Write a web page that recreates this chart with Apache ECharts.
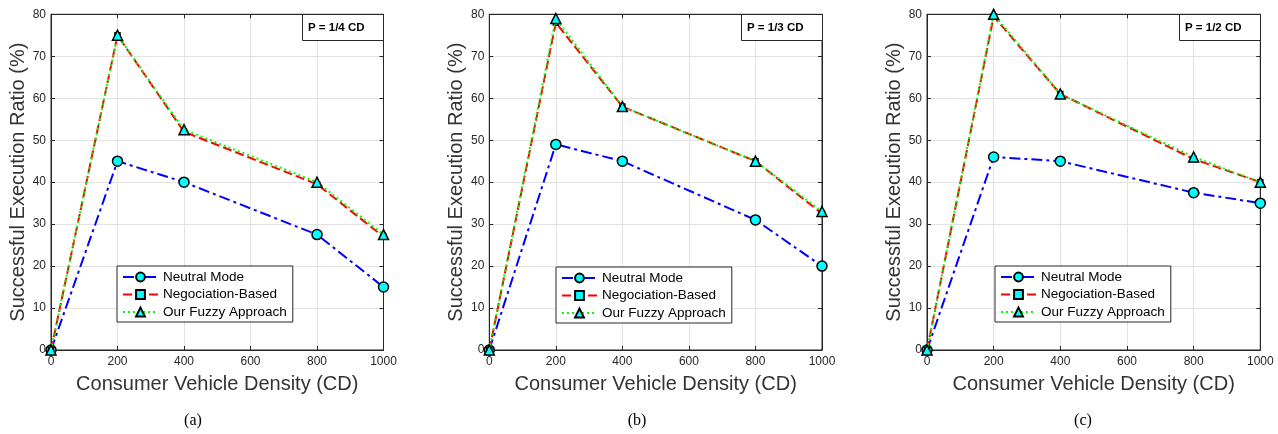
<!DOCTYPE html>
<html><head><meta charset="utf-8">
<script src="https://cdn.jsdelivr.net/npm/echarts@6/dist/echarts.min.js"></script>
<style>html,body{margin:0;padding:0;background:#fff}#c{width:1278px;height:434px}</style>
</head><body><div id="c"></div>
<script>
// ---- data ----
const xValues = [0, 200, 400, 800, 1000];
const seriesNames = ['Neutral Mode', 'Negociation-Based', 'Our Fuzzy Approach'];
const panelTags = ['P = 1/4 CD', 'P = 1/3 CD', 'P = 1/2 CD'];
const captions = ['(a)', '(b)', '(c)'];
// panel (a)
const neutralA = [0, 45, 40, 27.5, 15];
const negoA    = [0, 75, 52, 39.5, 27];
const fuzzyA   = [0, 75, 52.5, 40, 27.5];
// panel (b)
const neutralB = [0, 49, 45, 31, 20];
const negoB    = [0, 78, 58, 45, 32.5];
const fuzzyB   = [0, 79, 58, 45, 33];
// panel (c)
const neutralC = [0, 46, 45, 37.5, 35];
const negoC    = [0, 79.5, 61, 45.5, 40];
const fuzzyC   = [0, 80, 61, 46, 40];
const yTicks = {min: 0, max: 80, interval: 10};
const xTicks = {min: 0, max: 1000, interval: 200};

const panels = [
  {data: [neutralA, negoA, fuzzyA]},
  {data: [neutralB, negoB, fuzzyB]},
  {data: [neutralC, negoC, fuzzyC]}
];
// ---- layout ----
const gridBoxes = [
  {left: 51, width: 332.5},
  {left: 489.3, width: 332.7},
  {left: 927, width: 333.3}
];
const gridTop = 14.3, gridHeight = 335.7;
const legendPos = [{left: 117, top: 266}, {left: 556, top: 267}, {left: 995, top: 266}];
const tagPos = [{left: 302, top: 14}, {left: 741, top: 14}, {left: 1179, top: 14}];
const captionX = [193, 637, 1083];

const FONT = '"Liberation Sans", Arial, sans-serif';
const AX = '#262626';
const styles = [
  {color: '#0000ff', type: [11, 4, 3, 4], symbol: 'circle', size: 10},
  {color: '#ff0000', type: [9, 4], symbol: 'rect', size: 5},
  {color: '#00ff00', type: [2, 3], symbol: 'triangle', size: 10}
];

const grid = [], xAxis = [], yAxis = [], series = [], legend = [], title = [];
panels.forEach((p, i) => {
  grid.push({left: gridBoxes[i].left, width: gridBoxes[i].width, top: gridTop, height: gridHeight,
    show: true, borderColor: AX, borderWidth: 1, backgroundColor: '#fff'});
  xAxis.push({type: 'value', gridIndex: i, min: xTicks.min, max: xTicks.max, interval: xTicks.interval,
    name: 'Consumer Vehicle Density (CD)', nameLocation: 'middle', nameGap: 24,
    nameTextStyle: {fontFamily: FONT, fontSize: 20, color: '#333'},
    axisLine: {show: true, onZero: false, lineStyle: {color: AX}},
    axisTick: {show: true, inside: true, length: 4, lineStyle: {color: AX}},
    axisLabel: {fontFamily: FONT, fontSize: 12, color: AX, margin: 6, formatter: v => String(v)},
    splitLine: {show: true, lineStyle: {color: '#e3e3e3', width: 1}}});
  xAxis.push({type: 'value', gridIndex: i, position: 'top', min: xTicks.min, max: xTicks.max, interval: xTicks.interval,
    axisLine: {show: true, onZero: false, lineStyle: {color: AX}},
    axisTick: {show: true, inside: true, length: 4, lineStyle: {color: AX}},
    axisLabel: {show: false}, splitLine: {show: false}});
  yAxis.push({type: 'value', gridIndex: i, min: yTicks.min, max: yTicks.max, interval: yTicks.interval,
    name: 'Successful Execution Ratio (%)', nameLocation: 'middle', nameGap: 23,
    nameTextStyle: {fontFamily: FONT, fontSize: 20, color: '#333'},
    axisLine: {show: true, onZero: false, lineStyle: {color: AX}},
    axisTick: {show: true, inside: true, length: 4, lineStyle: {color: AX}},
    axisLabel: {fontFamily: FONT, fontSize: 12, color: AX, margin: 5},
    splitLine: {show: true, lineStyle: {color: '#e3e3e3', width: 1}}});
  yAxis.push({type: 'value', gridIndex: i, position: 'right', min: yTicks.min, max: yTicks.max, interval: yTicks.interval,
    axisLine: {show: true, onZero: false, lineStyle: {color: AX}},
    axisTick: {show: true, inside: true, length: 4, lineStyle: {color: AX}},
    axisLabel: {show: false}, splitLine: {show: false}});
  p.data.forEach((vals, k) => {
    const s = styles[k];
    series.push({type: 'line', name: seriesNames[k], xAxisIndex: 2 * i, yAxisIndex: 2 * i,
      data: xValues.map((x, j) => [x, vals[j]]),
      symbol: s.symbol, symbolSize: s.size, showAllSymbol: true, clip: false,
      lineStyle: {color: s.color, width: 2, type: s.type},
      itemStyle: {color: '#00ffff', borderColor: '#000', borderWidth: 1.5},
      emphasis: {disabled: true}, animation: false, z: 2 + k});
  });
  legend.push({left: legendPos[i].left, top: legendPos[i].top, orient: 'vertical',
    data: seriesNames, itemWidth: 35, itemHeight: 11, itemGap: 3.5,
    padding: [4, 6, 3, 5], borderColor: AX, borderWidth: 1, backgroundColor: '#fff',
    textStyle: {fontFamily: FONT, fontSize: 13.5, color: '#000'}, selectedMode: false});
  title.push({text: panelTags[i], left: tagPos[i].left, top: tagPos[i].top,
    padding: [8, 19, 7, 6], borderColor: AX, borderWidth: 1, backgroundColor: '#fff',
    textStyle: {fontFamily: FONT, fontSize: 11.5, fontWeight: 'bold', color: '#000'}});
  title.push({text: captions[i], left: captionX[i], top: 413, textAlign: 'center', padding: 0,
    textStyle: {fontFamily: '"Liberation Serif", "Times New Roman", serif', fontSize: 16, fontWeight: 'normal', color: '#000'}});
});

const chart = echarts.init(document.getElementById('c'), null, {renderer: 'canvas'});
chart.setOption({animation: false, backgroundColor: '#fff', grid, xAxis, yAxis, series, legend, title});
</script>
</body></html>
